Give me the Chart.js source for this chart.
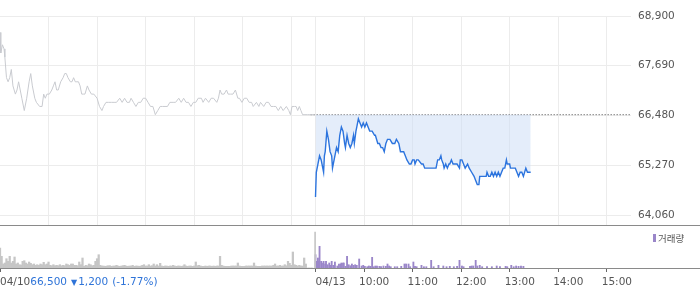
<!DOCTYPE html>
<html><head><meta charset="utf-8">
<script src="https://cdn.jsdelivr.net/npm/chart.js@4"></script>
<style>
html,body{margin:0;padding:0;background:#fff;}
#wrap{position:relative;width:700px;height:289px;overflow:hidden;}
#priceBox{position:absolute;left:0;top:0;width:700px;height:226px;}
#volBox{position:absolute;left:0;top:226px;width:700px;height:63px;}
</style></head><body>
<div id="wrap"><div id="priceBox"><canvas id="price"></canvas></div><div id="volBox"><canvas id="vol"></canvas></div></div>
<script>
// x axis = trading minutes, 04/10 09:00 = 0, 04/13 09:00 = 390, 04/13 15:30 = 780
const xMax = 780;
const priceTicks = [68900, 67690, 66480, 65270, 64060];
const yMin = 63817, yMax = 68900;
const prevClose = 66500;
const refLineStart = 384;
const priceGridMinutes = [60,120,180,240,300,360,390,450,510,570,630,690,750];
const axisTickMinutes = [0,390,450,510,570,630,690,750];
const axisTickLabels = ['04/10','04/13','10:00','11:00','12:00','13:00','14:00','15:00'];
const closeInfo = ['66,500','▼','1,200','(-1.77%)'];
const volumeLabel = '거래량';

const day1Times = [0,1,3,5,6,8,10,12,14,16,19,21,23,25,27,30,33,36,38,40,41,43,45,49,52,54,56,58,61,64,66,68,70,72,75,78,80,82,84,87,89,91,93,95,97,99,101,103,105,108,110,113,116,120,123,126,128,131,134,138,141,144,148,151,154,157,160,162,165,168,171,174,177,180,183,186,189,192,195,198,201,204,207,210,214,217,221,224,227,230,233,236,239,242,245,249,251,254,258,261,264,268,270,272,274,277,280,282,285,288,291,294,296,299,302,305,308,311,313,317,320,322,326,329,332,335,338,341,344,347,350,354,357,359,361,364,366,368,370,372,374,377,380,383,389];
const day1Prices = [68500,68000,68200,68100,67900,67400,67300,67400,67600,67200,67000,67100,67300,67100,66900,66600,66900,67300,67500,67200,67100,66900,66800,66700,66700,67000,66900,67000,67000,67100,67200,67300,67100,67100,67300,67400,67500,67500,67400,67300,67300,67400,67300,67300,67300,67200,67000,67000,67000,67200,67100,67000,67000,66900,66700,66600,66700,66800,66800,66800,66800,66800,66900,66800,66900,66800,66800,66900,66800,66700,66800,66800,66900,66900,66800,66700,66700,66500,66600,66700,66700,66700,66700,66800,66800,66800,66900,66800,66900,66800,66800,66700,66800,66800,66900,66900,66800,66900,66800,66900,66900,66800,66900,67100,67000,67000,67100,67000,67000,67000,67100,66900,66900,66800,66900,66900,66800,66800,66700,66800,66700,66800,66700,66800,66800,66700,66700,66700,66600,66700,66600,66700,66600,66500,66700,66700,66700,66600,66700,66600,66500,66500,66500,66500,66500];

const day2Times = [390,391,393,395,397,400,401,402,404,406,408,410,411,413,415,416,418,420,422,424,426,427,429,431,433,435,437,438,440,441,443,445,447,449,451,453,455,457,460,463,464,467,469,471,473,475,477,479,482,485,488,490,493,495,497,499,501,503,506,508,510,512,513,515,517,521,523,525,529,533,539,541,543,545,546,548,549,551,553,555,556,558,560,563,565,568,569,571,573,575,578,580,583,586,588,590,592,593,598,601,602,604,606,608,610,612,614,616,618,620,622,624,626,627,630,631,635,637,639,641,643,645,647,650,652,654,656];
const day2Prices = [64500,65100,65300,65500,65400,65100,65500,65600,66100,65900,65600,65500,65200,65400,65600,65700,65600,66000,66200,66100,65800,65700,66000,65800,65700,65800,66000,65800,66100,66200,66400,66300,66200,66300,66200,66300,66200,66100,66100,66000,66000,65800,65800,65700,65700,65600,65800,65900,65900,65800,65800,65900,65800,65600,65600,65600,65500,65400,65300,65300,65400,65400,65300,65400,65400,65300,65300,65200,65200,65200,65200,65400,65400,65500,65400,65300,65200,65300,65200,65300,65300,65400,65300,65300,65300,65200,65400,65400,65300,65200,65300,65200,65100,65000,64900,64800,64800,65000,65000,65000,65100,65000,65000,65100,65000,65100,65000,65100,65000,65100,65200,65200,65400,65300,65300,65200,65200,65200,65100,65000,65100,65100,65000,65200,65100,65100,65100];

// volume, thousand shares; day 1 in 2-minute buckets starting at 09:00
const day1Vol = [20,11.7,4,5,9.3,6.7,11.7,5,6.7,11,4,5,3.3,3,6.7,7.3,5,4,6,4.7,3.3,4,2.7,3.3,2.7,4,3.3,5.7,3.3,4,6,2.7,2.3,3.3,2.3,2.7,2.3,3.3,2.3,2.7,2.3,4,3.3,2.7,4,4,2.7,2.7,2.3,6,3.3,10,1.7,2.7,2.3,4,3.3,2.3,2.7,6.7,9.3,13.3,2.7,2,2,1.7,2,2.3,2.3,1.7,2,2,2.7,2,1.7,2,2.3,2.7,2,1.7,2,2,2.7,1.7,2,2,1.7,2,2.7,3.3,2,2,3.3,2,2.3,4,2,3.3,2,4.7,2,1.7,2,2,1.7,2,2,2.7,2,1.7,2,2,1.7,2,3.3,2,1.7,2,2,1.7,2,6,2.3,2.7,2,1.7,1.7,2,1.7,2,2,1.7,2,1.7,2,2,11.7,2.7,2,1.7,1.7,1.7,1.7,2,2,2,2,5,2,1.7,1.7,1.7,2,2,2,2,2,5,2,1.7,1.7,1.7,2,2,2,2,2,2,2,2.7,4,2,2,2.7,2,2,3.3,2.3,6.7,4.7,2.7,16,3.3,2.7,2,2.7,2,2,10,4,0,0,0,0];
const closeAuctionMinute = 389.5;
const closeAuctionVol = 36;
const day2VolTimes = [390,391,393,394,395,397,398,400,402,403,405,407,408,410,412,414,417,419,421,422,424,425,427,429,431,433,435,437,439,441,444,447,449,451,454,456,458,460,462,464,466,469,471,474,477,479,481,483,488,491,496,500,502,505,507,511,513,515,521,524,527,533,536,542,548,552,556,561,565,568,571,573,581,583,585,588,590,593,596,602,608,614,618,625,627,632,635,638,641,644,647];
const day2Vol = [13.3,6.7,10,6.7,21.7,6.7,5,6.7,4,6.7,3.3,5,2.7,6.7,2.7,6,2,4,4,5,5,5,1.7,11.7,3.3,2.3,4,2.7,3.3,2.7,9,2,2.7,1.7,1.3,2,1.7,10.7,1.3,2,2,1.7,1.3,2,1.7,4,2,1.3,1.3,1.3,1.7,4,4,4,1.3,6,1.7,1.3,2.7,1.3,1.3,7.7,1.3,2.7,2,1.3,1.7,1.3,1.7,7.7,2,1.3,1.7,2,2,7.7,2,2.7,1.3,1.3,1.3,2,1.3,1.7,1.3,2.7,1.3,2,1.7,2,1.7];

const FONT = 'DejaVu Sans';
const pts = (t, v) => t.map((m, i) => ({x: m, y: v[i]}));
const fullWidthLine = {
  id: 'fullWidthLine',
  afterDraw(c) {
    const ctx = c.ctx; ctx.save();
    ctx.strokeStyle = '#8a8a8a'; ctx.lineWidth = 1;
    const y = Math.round(c.chartArea.bottom) + 0.5;
    ctx.beginPath(); ctx.moveTo(0, y); ctx.lineTo(c.width, y); ctx.stroke();
    ctx.restore();
  }
};

new Chart(document.getElementById('price'), {
  type: 'line',
  data: { datasets: [
    { data: pts(day1Times, day1Prices), borderColor: '#c9cbd0', borderWidth: 1, pointRadius: 0, fill: false, tension: 0 },
    { data: pts(day2Times, day2Prices), borderColor: '#2c74de', borderWidth: 1.4, pointRadius: 0, tension: 0,
      fill: { value: prevClose }, backgroundColor: 'rgba(206,222,246,0.55)' },
    { data: [{x: refLineStart, y: prevClose}, {x: xMax, y: prevClose}], borderColor: '#444', borderWidth: 1,
      borderDash: [1, 2], pointRadius: 0, fill: false }
  ]},
  options: {
    responsive: true, maintainAspectRatio: false, animation: false, devicePixelRatio: 1,
    layout: { padding: { top: 16, bottom: 1, left: 0, right: 0 } },
    plugins: { legend: { display: false }, tooltip: { enabled: false } },
    scales: {
      x: { type: 'linear', min: 0, max: xMax,
        afterBuildTicks: s => { s.ticks = priceGridMinutes.map(v => ({value: v})); },
        afterFit: s => { s.height = 0; s.paddingBottom = 0; s.paddingTop = 0; },
        ticks: { display: false }, grid: { color: '#ececec', drawTicks: false }, border: { display: false } },
      y: { position: 'right', min: yMin, max: yMax,
        afterBuildTicks: s => { s.ticks = priceTicks.map(v => ({value: v})); },
        afterFit: s => { s.width = 69; s.paddingBottom = 0; s.paddingTop = 0; },
        ticks: { padding: 7, color: '#555', font: { family: FONT, size: 10.5 },
          callback: v => v.toLocaleString('en-US') },
        grid: { color: '#ececec', drawTicks: false }, border: { display: false } }
    }
  },
  plugins: [fullWidthLine]
});

const labelsPlugin = {
  id: 'labels',
  afterDraw(c) {
    const ctx = c.ctx, xs = c.scales.x; ctx.save();
    const ty = c.chartArea.bottom + 14.5;
    ctx.textBaseline = 'middle'; ctx.textAlign = 'left';
    ctx.font = '10.5px "' + FONT + '"';
    axisTickMinutes.forEach((m, i) => {
      const px = xs.getPixelForValue(m);
      let x = i < 2 ? px : px - 5;
      ctx.fillStyle = '#555';
      ctx.fillText(axisTickLabels[i], x, ty);
      if (i === 0) {
        x += ctx.measureText(axisTickLabels[0]).width;
        ctx.fillStyle = '#2f74d8';
        ctx.fillText(closeInfo[0], x, ty); x += ctx.measureText(closeInfo[0]).width + 4;
        ctx.font = '8px "' + FONT + '"';
        ctx.fillText(closeInfo[1], x, ty); x += ctx.measureText(closeInfo[1]).width + 1;
        ctx.font = '10.5px "' + FONT + '"';
        ctx.fillText(closeInfo[2], x, ty); x += ctx.measureText(closeInfo[2]).width + 4;
        ctx.fillText(closeInfo[3], x, ty);
      }
    });
    // legend
    ctx.fillStyle = '#9a86c9';
    ctx.fillRect(653, 8, 3, 8);
    ctx.fillStyle = '#555';
    ctx.font = '9.5px "Noto Sans CJK KR"';
    ctx.fillText(volumeLabel, 658, 12.5);
    ctx.restore();
  }
};

new Chart(document.getElementById('vol'), {
  type: 'bar',
  data: { datasets: [
    { data: pts(day1Vol.map((v, i) => i * 2), day1Vol), backgroundColor: '#c6c6c6', barThickness: 1.6, grouped: false },
    { data: [{x: closeAuctionMinute, y: closeAuctionVol}], backgroundColor: '#c6c6c6', barThickness: 1, grouped: false },
    { data: pts(day2VolTimes, day2Vol), backgroundColor: '#9a86c9', barThickness: 1.2, grouped: false }
  ]},
  options: {
    responsive: true, maintainAspectRatio: false, animation: false, devicePixelRatio: 1,
    layout: { padding: { top: 2, right: 69, left: 0, bottom: 0 } },
    plugins: { legend: { display: false }, tooltip: { enabled: false } },
    scales: {
      x: { type: 'linear', min: 0, max: xMax, offset: false,
        afterBuildTicks: s => { s.ticks = axisTickMinutes.map(v => ({value: v})); },
        afterFit: s => { s.height = 21; },
        ticks: { display: false },
        grid: { offset: false, drawOnChartArea: false, drawTicks: true, tickLength: 4, color: '#666' },
        border: { display: false } },
      y: { display: false, min: 0, max: 40 }
    }
  },
  plugins: [fullWidthLine, labelsPlugin]
});
</script>
</body></html>
